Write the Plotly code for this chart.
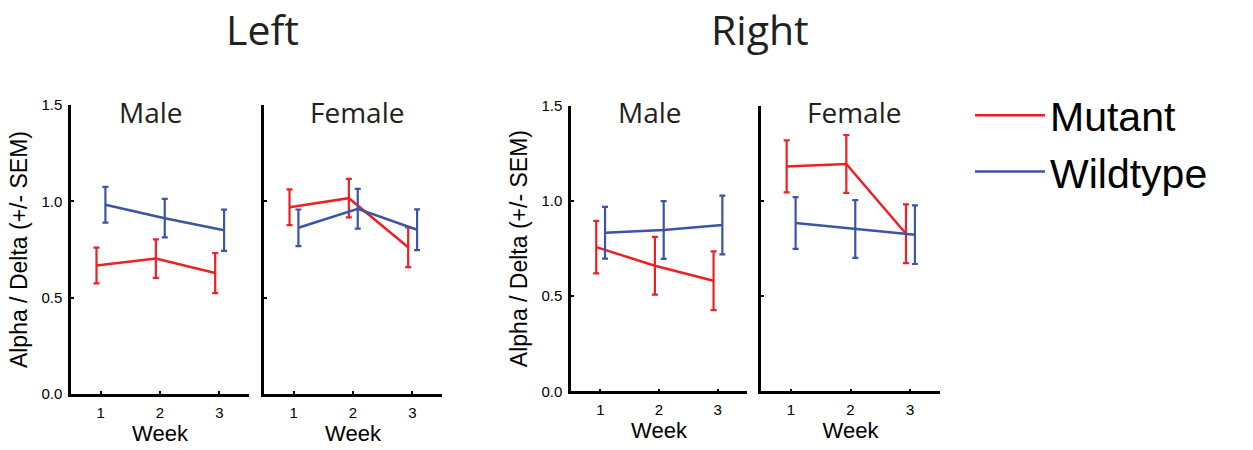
import plotly.graph_objects as go

W, H = 1253, 450

weeks = [1, 2, 3]
tick_labels = ["1", "2", "3"]
y_ticks = [0.0, 0.5, 1.0, 1.5]

left_male_mutant = [0.667, 0.703, 0.628]
left_male_mutant_err = [0.093, 0.100, 0.104]
left_male_wt = [0.983, 0.913, 0.850]
left_male_wt_err = [0.093, 0.100, 0.107]

left_female_mutant = [0.970, 1.017, 0.762]
left_female_mutant_err = [0.093, 0.100, 0.103]
left_female_wt = [0.863, 0.962, 0.853]
left_female_wt_err = [0.095, 0.103, 0.106]

right_male_mutant = [0.758, 0.660, 0.581]
right_male_mutant_err = [0.138, 0.152, 0.154]
right_male_wt = [0.833, 0.848, 0.874]
right_male_wt_err = [0.136, 0.152, 0.154]

right_female_mutant = [1.182, 1.195, 0.828]
right_female_mutant_err = [0.137, 0.152, 0.154]
right_female_wt = [0.885, 0.853, 0.823]
right_female_wt_err = [0.136, 0.152, 0.154]

RED = "#ED2024"
BLUE = "#3B54A5"
MUT_OFF = -0.07
WT_OFF = 0.08

AX_FONT = "Liberation Sans, Arial, sans-serif"
TITLE_FONT = "Open Sans, Noto Sans, sans-serif"

panels = [
    ("x", "y", left_male_mutant, left_male_mutant_err, left_male_wt, left_male_wt_err, (71, 249), (400, 100), True),
    ("x2", "y2", left_female_mutant, left_female_mutant_err, left_female_wt, left_female_wt_err, (264, 442), (400, 100), False),
    ("x3", "y3", right_male_mutant, right_male_mutant_err, right_male_wt, right_male_wt_err, (571, 747), (397.3, 100.7), True),
    ("x4", "y4", right_female_mutant, right_female_mutant_err, right_female_wt, right_female_wt_err, (761, 940), (397.3, 100.7), False),
]

fig = go.Figure()
layout = dict(
    width=W, height=H, autosize=False,
    margin=dict(l=0, r=0, t=0, b=0),
    paper_bgcolor="white", plot_bgcolor="white",
    showlegend=True,
)

for i, (xa, ya, mut, mut_e, wt, wt_e, xd, yd, showy) in enumerate(panels):
    fig.add_trace(go.Scatter(
        x=[w + MUT_OFF for w in weeks], y=mut, mode="lines",
        line=dict(color=RED, width=2.5),
        error_y=dict(type="data", array=mut_e, visible=True, color=RED, thickness=2.2, width=3),
        name="Mutant", legendgroup="mut", showlegend=(i == 0),
        xaxis=xa, yaxis=ya,
    ))
    fig.add_trace(go.Scatter(
        x=[w + WT_OFF for w in weeks], y=wt, mode="lines",
        line=dict(color=BLUE, width=2.5),
        error_y=dict(type="data", array=wt_e, visible=True, color=BLUE, thickness=2.2, width=3),
        name="Wildtype", legendgroup="wt", showlegend=(i == 0),
        xaxis=xa, yaxis=ya,
    ))
    xkey = "xaxis" + xa[1:]
    ykey = "yaxis" + ya[1:]
    layout[xkey] = dict(
        domain=[xd[0] / W, xd[1] / W], range=[0.5, 3.5], anchor=ya,
        tickvals=weeks, ticktext=tick_labels, ticks="inside", ticklen=3, tickwidth=2,
        tickcolor="black", showline=True, linecolor="black", linewidth=2.5,
        showgrid=False, zeroline=False, fixedrange=True, ticklabelstandoff=3,
        tickfont=dict(family=AX_FONT, size=15, color="black"),
        title=dict(text="Week", font=dict(family=AX_FONT, size=22, color="black"), standoff=4),
    )
    layout[ykey] = dict(
        domain=[1 - yd[0] / H, 1 - yd[1] / H], range=[0, 1.5], anchor=xa,
        tickvals=y_ticks, tickformat=".1f", ticks="inside", ticklen=3, tickwidth=2,
        tickcolor="black", showline=True, linecolor="black", linewidth=2.5,
        showgrid=False, zeroline=False, fixedrange=True, showticklabels=showy,
        ticklabelstandoff=3,
        tickfont=dict(family=AX_FONT, size=15, color="black"),
        title=dict(text="Alpha / Delta (+/- SEM)" if showy else "",
                   font=dict(family=AX_FONT, size=23, color="black"), standoff=8),
    )

layout["legend"] = dict(
    x=970 / W, y=1 - 76 / H, xanchor="left", yanchor="top",
    font=dict(family=AX_FONT, size=41, color="black"),
    itemwidth=70, bgcolor="rgba(0,0,0,0)", borderwidth=0,
    tracegroupgap=0,
)

annotations = []
for txt, cx, cy, size in [
    ("Left", 262.5, 21, 41), ("Right", 760, 21, 41),
    ("Male", 151, 107, 28), ("Female", 357, 107, 28),
    ("Male", 650, 107, 28), ("Female", 854, 107, 28),
]:
    annotations.append(dict(
        text=txt, x=cx / W, y=1 - cy / H, xref="paper", yref="paper",
        xanchor="center", yanchor="middle", showarrow=False,
        font=dict(family=TITLE_FONT, size=size, color="#231F20"),
    ))
layout["annotations"] = annotations

fig.update_layout(**layout)
fig.write_html("out.html", config={"displayModeBar": False},
               post_script="document.body.style.margin='0';")
